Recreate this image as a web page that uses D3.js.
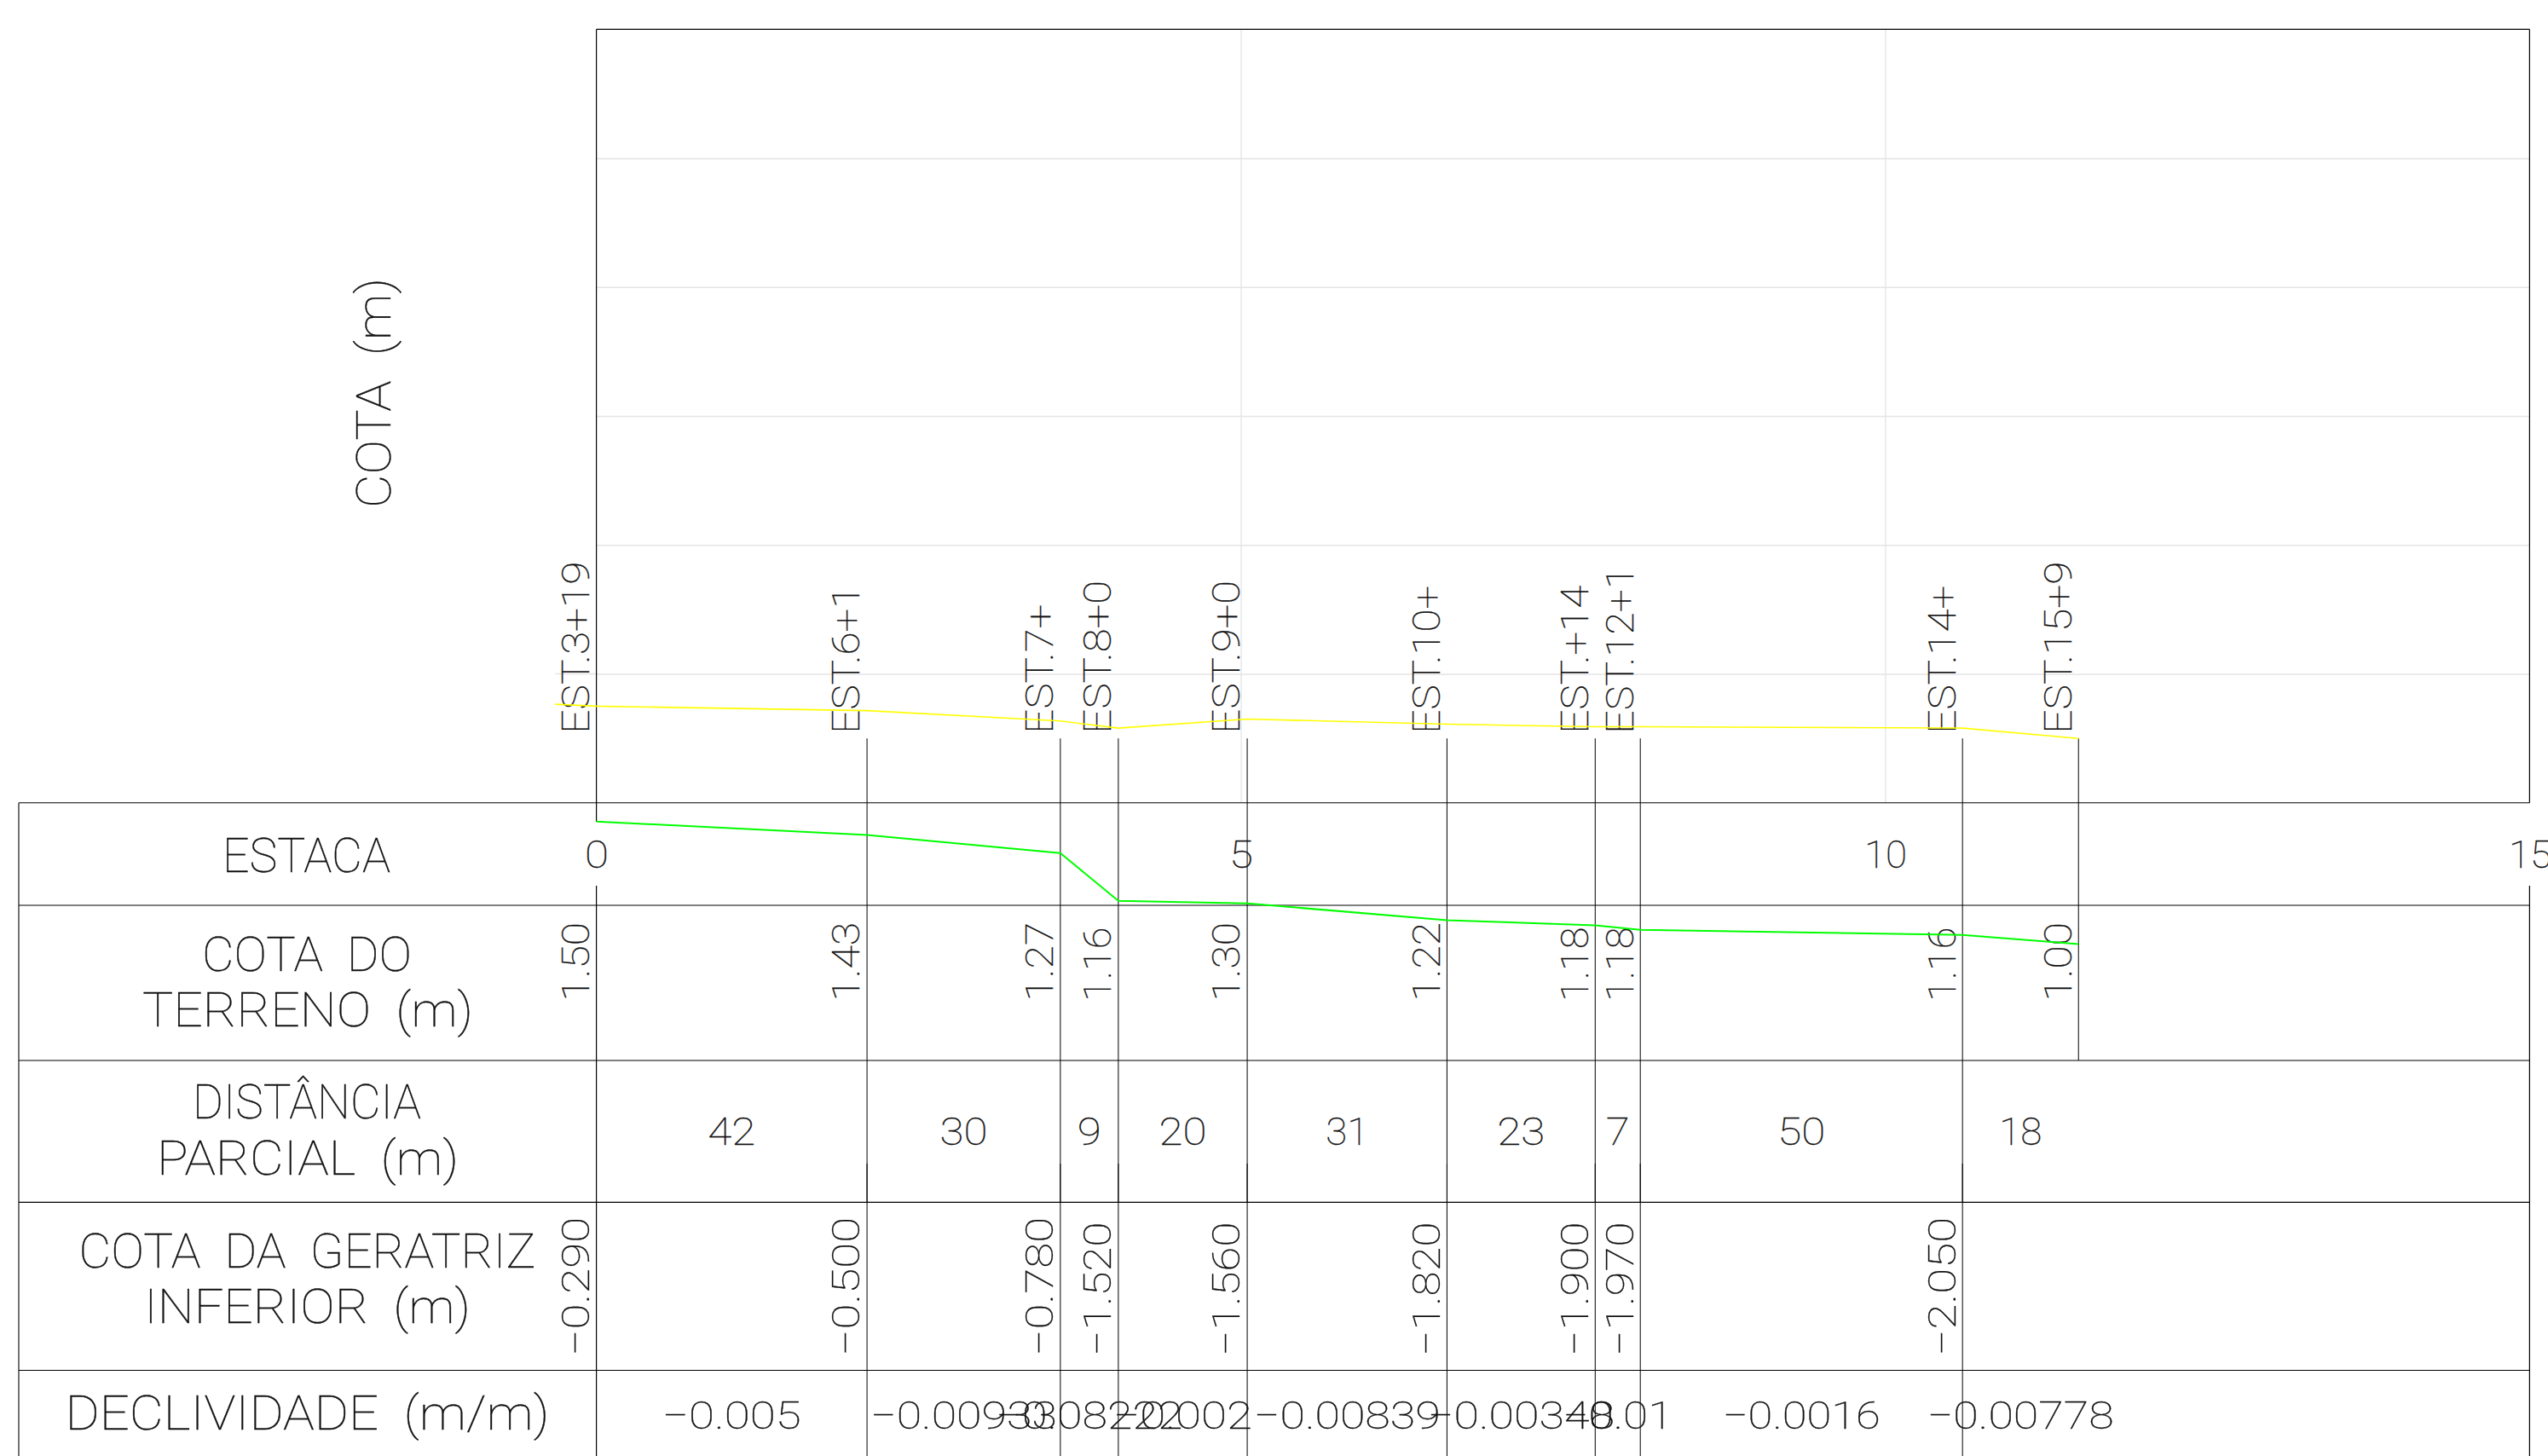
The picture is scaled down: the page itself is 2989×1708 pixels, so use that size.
<!DOCTYPE html>
<html>
<head>
<meta charset="utf-8">
<script src="https://d3js.org/d3.v7.min.js"></script>
<style>
html, body { margin: 0; padding: 0; background: #fff; }
svg { display: block; }
text { font-family: Roboto, sans-serif; font-weight: 100; fill: #111; stroke: #111; stroke-width: 0.35; white-space: pre; }
</style>
</head>
<body>
<div id="chart"></div>
<script>
// station positions along the profile (1 unit = 1 estaca)
var stationX = [0, 2.1, 3.6, 4.05, 5.05, 6.6, 7.75, 8.1, 10.6, 11.5];
var stationNames = ["EST.3+19", "EST.6+1", "EST.7+", "EST.8+0", "EST.9+0", "EST.10+", "EST.+14", "EST.12+1", "EST.14+", "EST.15+9"];

// ground level, the first point sits left of the axis
var terrainX = [-0.32, 0, 2.1, 3.6, 4.05, 5.05, 6.6, 7.75, 8.1, 10.6, 11.5];
var terrainY = [1.53, 1.50, 1.43, 1.27, 1.16, 1.30, 1.22, 1.18, 1.18, 1.16, 1.00];
var terrainLabels = ["1.50", "1.43", "1.27", "1.16", "1.30", "1.22", "1.18", "1.18", "1.16", "1.00"];

// pipe invert
var invertY = [-0.29, -0.50, -0.78, -1.52, -1.56, -1.82, -1.90, -1.97, -2.05, -2.19];
var invertLabels = ["-0.290", "-0.500", "-0.780", "-1.520", "-1.560", "-1.820", "-1.900", "-1.970", "-2.050"];

var distLabels = ["42", "30", "9", "20", "31", "23", "7", "50", "18"];
var slopeLabels = ["-0.005", "-0.00933", "-0.08222", "-0.002", "-0.00839", "-0.00348", "-0.01", "-0.0016", "-0.00778"];

var xTicks = [0, 5, 10, 15];
var yTicks = [2, 4, 6, 8, 10];

var svgWidth = 2989;
var svgHeight = 1708;

var plot = { left: 699.6, right: 2967.4, top: 34.4, bottom: 941.8 };
var tableLeft = 22;
var rowLines = [941.8, 1062, 1244, 1410.4, 1607.5];

var x = d3.scaleLinear().domain([0, 15]).range([plot.left, plot.right]);
var y = d3.scaleLinear().domain([0, 12]).range([plot.bottom, plot.top]);

var svg = d3.select("#chart").append("svg")
    .attr("width", svgWidth)
    .attr("height", svgHeight);

// CAD text has a wider pitch than the font, so every string gets a fitted length
var charWidth = { "1": 22, ".": 15, "-": 36, "+": 34, "E": 25, "S": 25, "T": 25 };
function fitWidth(s) {
    return d3.sum(s.split(""), function(c) { return charWidth[c] || 28; });
}
function minus(s) { return s.replace("-", "\u2212"); }

// grid
svg.append("g")
    .attr("transform", "translate(0," + plot.bottom + ")")
    .call(d3.axisBottom(x).tickValues(xTicks.slice(1, 3)).tickSize(-(plot.bottom - plot.top)).tickFormat(""))
    .call(function(g) { g.select(".domain").remove(); })
    .selectAll("line").attr("stroke", "#dcdcdc").attr("stroke-width", 1);

svg.append("g")
    .attr("transform", "translate(" + plot.left + ",0)")
    .call(d3.axisRight(y).tickValues(yTicks).tickSize(plot.right - plot.left).tickFormat(""))
    .call(function(g) { g.select(".domain").remove(); })
    .selectAll("line").attr("stroke", "#e4e4e4").attr("stroke-width", 1.5);

// first grid line pokes out left of the frame
svg.append("line")
    .attr("x1", x(-0.32)).attr("x2", plot.left)
    .attr("y1", y(2)).attr("y2", y(2))
    .attr("stroke", "#e4e4e4").attr("stroke-width", 1.5);

// table rows
svg.selectAll(".row").data(rowLines).enter().append("line")
    .attr("class", "row")
    .attr("x1", tableLeft).attr("x2", plot.right)
    .attr("y1", function(d) { return d; }).attr("y2", function(d) { return d; })
    .attr("stroke", "#000").attr("stroke-width", 1.1);

svg.append("line").attr("x1", tableLeft).attr("x2", tableLeft)
    .attr("y1", plot.bottom).attr("y2", svgHeight)
    .attr("stroke", "#000").attr("stroke-width", 1.1);

// frame
var frame = [
    [plot.left, plot.top, plot.right, plot.top],
    [plot.left, plot.top, plot.left, y(invertY[0])],
    [plot.left, 1039, plot.left, svgHeight],
    [plot.right, plot.top, plot.right, plot.bottom],
    [plot.right, 1039, plot.right, svgHeight]
];
svg.selectAll(".frame").data(frame).enter().append("line")
    .attr("class", "frame")
    .attr("x1", function(d) { return d[0]; }).attr("y1", function(d) { return d[1]; })
    .attr("x2", function(d) { return d[2]; }).attr("y2", function(d) { return d[3]; })
    .attr("stroke", "#000").attr("stroke-width", 1.2);

// station verticals, the last one stops under the terrain row
svg.selectAll(".station").data(stationX.slice(1)).enter().append("line")
    .attr("class", "station")
    .attr("x1", function(d) { return x(d); }).attr("x2", function(d) { return x(d); })
    .attr("y1", y(1))
    .attr("y2", function(d, i) { return i == stationX.length - 2 ? rowLines[2] : svgHeight; })
    .attr("stroke", "#000").attr("stroke-width", 1);

// short darker stubs above the invert row
svg.selectAll(".stub").data(stationX.slice(1, -1)).enter().append("line")
    .attr("class", "stub")
    .attr("x1", function(d) { return x(d); }).attr("x2", function(d) { return x(d); })
    .attr("y1", 1365).attr("y2", rowLines[3])
    .attr("stroke", "#000").attr("stroke-width", 1);

// profile lines
var terrainLine = d3.line()
    .x(function(d, i) { return x(terrainX[i]); })
    .y(function(d) { return y(d); });
var invertLine = d3.line()
    .x(function(d, i) { return x(stationX[i]); })
    .y(function(d) { return y(d); });

// labels
function upright(labels, size, baseline, getX) {
    svg.append("g").selectAll("text").data(labels).enter().append("text")
        .attr("x", getX)
        .attr("y", baseline)
        .attr("text-anchor", "middle")
        .attr("font-size", size)
        .attr("textLength", function(d) { return fitWidth(d); })
        .attr("lengthAdjust", "spacingAndGlyphs")
        .text(function(d) { return minus(d); });
}
function rotated(labels, bottom, getX) {
    svg.append("g").selectAll("text").data(labels).enter().append("text")
        .attr("transform", function(d, i) { return "translate(" + getX(i) + "," + bottom + ") rotate(-90)"; })
        .attr("font-size", 45)
        .attr("textLength", function(d) { return fitWidth(d); })
        .attr("lengthAdjust", "spacingAndGlyphs")
        .text(function(d) { return minus(d); });
}
function stationBase(i) { return x(stationX[i]) - 8.6; }

rotated(stationNames, 860.7, stationBase);
rotated(terrainLabels, 1174.7, stationBase);
rotated(invertLabels, 1590.7, stationBase);

function midpoint(d, i) { return (x(stationX[i]) + x(stationX[i + 1])) / 2; }
upright(distLabels, 45, 1343, midpoint);
upright(slopeLabels, 45, 1676, midpoint);

// estaca numbers
svg.append("g")
    .attr("transform", "translate(0,1017.5)")
    .call(d3.axisBottom(x).tickValues(xTicks).tickSize(0).tickFormat(d3.format("d")))
    .call(function(g) { g.select(".domain").remove(); })
    .selectAll("text")
    .attr("y", 0).attr("dy", 0)
    .attr("font-size", 45)
    .attr("font-family", "Roboto, sans-serif")
    .attr("textLength", function(d) { return d < 10 ? 28 : 50; })
    .attr("lengthAdjust", "spacingAndGlyphs")
    .attr("fill", "#111");

// row headers
var headers = [
    { t: "ESTACA", x0: 261, w: 197, y: 1022.7 },
    { t: "COTA  DO", x0: 237, w: 246, y: 1138.7 },
    { t: "TERRENO  (m)", x0: 167, w: 388, y: 1204 },
    { t: "DIST\u00c2NCIA", x0: 226, w: 268, y: 1312.4 },
    { t: "PARCIAL  (m)", x0: 184, w: 354, y: 1378 },
    { t: "COTA  DA  GERATRIZ", x0: 92.5, w: 536, y: 1486.6 },
    { t: "INFERIOR  (m)", x0: 169, w: 383, y: 1552 },
    { t: "DECLIVIDADE  (m/m)", x0: 76.5, w: 568, y: 1677 }
];
svg.append("g").selectAll("text").data(headers).enter().append("text")
    .attr("x", function(d) { return d.x0; })
    .attr("y", function(d) { return d.y; })
    .attr("font-size", 56)
    .attr("textLength", function(d) { return d.w; })
    .attr("lengthAdjust", "spacingAndGlyphs")
    .text(function(d) { return d.t; });

svg.append("text")
    .attr("transform", "translate(458,596) rotate(-90)")
    .attr("font-size", 56)
    .attr("textLength", 270)
    .attr("lengthAdjust", "spacingAndGlyphs")
    .text("COTA  (m)");

svg.append("path")
    .attr("d", terrainLine(terrainY))
    .attr("fill", "none").attr("stroke", "#ffff00").attr("stroke-width", 1.6);
svg.append("path")
    .attr("d", invertLine(invertY))
    .attr("fill", "none").attr("stroke", "#00ff00").attr("stroke-width", 2);
</script>
</body>
</html>
